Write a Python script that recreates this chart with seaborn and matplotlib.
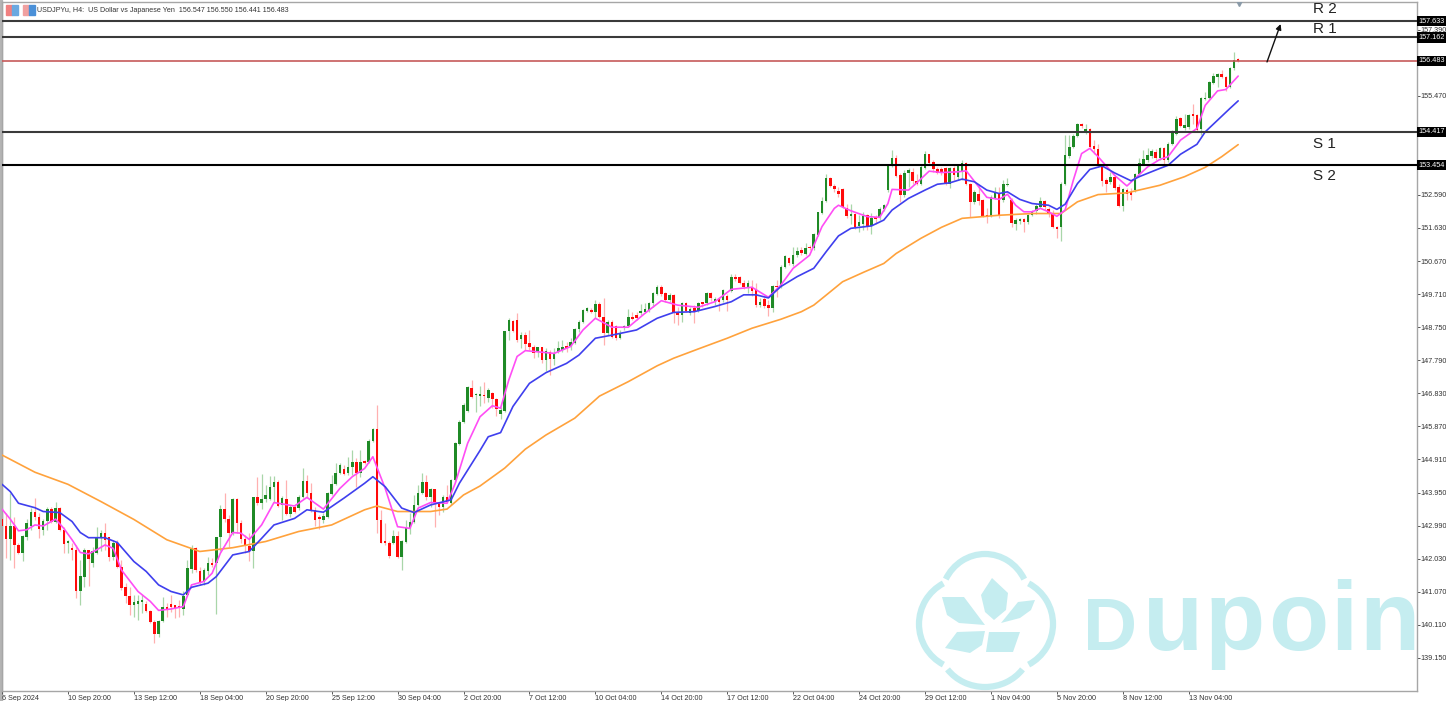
import pandas as pd
import seaborn as sns
from matplotlib import pyplot as plt
from matplotlib.patches import Arc, Polygon, Rectangle

# USDJPYu H4 candles
opens = [
    143.17,142.98,142.59,142.98,142.43,142.21,142.67,142.98,143.38,143.23,
    142.86,143.13,143.46,143.11,143.49,142.86,142.48,142.35,142.29,141.08,
    141.51,142.27,141.92,142.21,142.65,142.79,142.65,142.07,142.50,141.78,
    141.20,140.95,140.69,140.72,140.77,140.72,140.51,140.20,139.84,140.22,
    140.64,140.72,140.68,140.66,140.56,140.98,141.73,142.35,141.66,141.34,
    141.68,141.92,141.90,142.67,143.47,143.17,142.79,143.75,143.06,142.59,
    142.40,142.24,143.81,143.64,143.75,143.75,144.10,144.27,143.59,143.76,
    143.33,143.52,143.50,143.81,144.29,143.93,143.45,143.25,143.16,143.23,
    143.91,144.20,144.53,144.63,144.51,144.68,144.85,144.53,144.87,144.85,
    145.46,145.79,143.14,142.53,142.50,142.50,142.69,142.09,142.51,142.91,
    143.11,143.59,143.93,144.27,143.83,144.05,143.64,143.54,143.81,143.64,
    144.32,145.36,146.01,146.33,146.98,146.78,146.74,146.76,146.69,146.85,
    146.66,146.22,146.33,148.65,148.94,148.96,148.40,148.52,148.30,148.17,
    148.04,148.17,147.80,148.04,147.82,148.04,148.09,148.20,148.20,148.30,
    148.69,148.91,149.23,149.25,149.20,149.41,149.06,148.59,148.91,148.79,
    148.43,148.72,148.79,149.06,149.10,149.15,149.20,149.25,149.44,149.71,
    149.93,149.75,149.54,149.68,149.17,149.10,149.46,149.15,149.30,149.23,
    149.47,149.46,149.75,149.49,149.56,149.54,149.66,149.81,150.22,150.20,
    150.04,149.88,149.92,149.83,149.39,149.56,149.39,149.32,149.95,149.92,
    150.51,150.75,150.58,150.84,150.99,150.87,151.09,151.04,151.43,152.07,
    152.41,153.07,152.86,152.71,152.76,152.20,151.97,152.03,151.69,151.74,
    152.00,151.69,151.96,151.94,152.18,152.73,153.44,153.65,153.16,152.58,
    153.23,153.26,153.00,152.90,153.37,153.77,153.55,153.34,153.34,153.36,
    152.92,153.36,153.10,153.29,153.52,152.92,152.39,152.63,152.44,151.99,
    151.99,152.49,152.63,152.44,152.87,152.44,151.76,151.83,151.89,151.81,
    152.00,152.13,152.25,152.42,152.17,152.07,151.67,151.67,152.90,153.71,
    153.98,154.30,154.64,154.42,154.50,154.00,153.93,153.47,153.02,152.97,
    153.10,152.83,152.27,152.73,152.68,152.73,153.19,153.50,153.60,153.71,
    153.84,153.65,153.96,153.60,154.08,154.37,154.81,154.52,154.57,154.90,
    154.90,154.49,155.36,155.39,155.84,156.00,156.09,156.02,155.73,156.26,
    156.547]
highs = [
    143.35,143.35,143.93,143.25,142.48,142.72,143.17,143.49,143.78,143.35,
    143.17,143.54,143.54,143.69,143.54,142.96,142.57,142.48,142.43,141.99,
    142.33,142.29,142.38,142.96,142.86,143.06,142.67,142.57,142.57,141.99,
    141.32,141.22,140.98,140.98,140.98,140.79,140.54,140.25,140.25,140.91,
    140.74,140.98,140.69,140.83,141.08,141.99,142.43,142.38,141.80,141.75,
    142.07,142.04,142.67,143.59,143.93,143.30,143.78,143.78,143.15,142.72,
    142.77,143.83,144.41,144.49,144.17,144.43,144.43,144.32,143.85,144.32,
    143.59,143.62,143.88,144.67,144.46,144.22,143.54,143.30,143.37,143.98,
    144.46,144.80,144.82,144.75,144.99,145.19,144.94,145.19,144.90,145.50,
    145.82,146.49,143.43,143.06,142.53,142.85,142.82,142.58,143.16,143.35,
    143.88,144.17,144.51,144.46,144.07,144.05,143.69,143.88,144.17,144.34,
    145.43,146.06,146.54,147.03,147.22,146.85,147.03,147.17,146.98,146.88,
    146.69,146.43,148.65,149.01,148.96,149.15,148.62,148.62,148.67,148.23,
    148.18,148.18,148.14,148.09,148.14,148.36,148.38,148.33,148.43,148.72,
    148.96,149.27,149.35,149.30,149.54,149.49,149.59,148.96,148.96,148.81,
    148.67,148.81,149.27,149.20,149.20,149.42,149.44,149.49,149.78,149.97,
    149.97,149.78,149.73,149.71,149.35,149.49,149.49,149.33,149.39,149.49,
    149.49,149.78,149.78,149.62,149.59,149.85,149.71,150.29,150.29,150.24,
    150.12,150.12,150.12,150.02,149.59,149.64,149.54,149.97,150.12,150.55,
    150.84,150.80,151.09,151.09,151.07,151.18,151.14,151.49,152.10,152.52,
    153.19,153.10,152.90,152.83,152.78,152.34,152.34,152.07,152.00,152.10,
    152.03,152.07,152.00,152.25,152.34,153.50,153.89,153.74,153.23,153.31,
    153.36,153.36,153.21,153.48,153.87,153.79,153.60,153.41,153.41,153.41,
    153.41,153.43,153.45,153.60,153.55,152.94,152.73,152.87,152.46,152.20,
    152.58,152.83,152.83,153.02,153.07,152.49,151.91,151.91,151.91,152.05,
    152.15,152.34,152.54,152.44,152.25,152.15,151.68,152.97,154.32,154.32,
    154.37,154.68,154.68,154.66,154.52,154.18,154.08,153.50,153.07,153.26,
    153.16,152.92,152.78,152.78,152.78,153.23,153.65,153.89,153.94,153.91,
    153.91,153.98,153.98,154.13,154.47,154.88,154.86,154.95,154.93,155.24,
    154.93,155.44,155.58,155.90,156.13,156.13,156.21,156.04,156.31,156.74,
    156.55]
lows = [
    142.85,142.04,141.99,141.75,142.17,141.95,142.57,142.86,143.15,142.62,
    142.72,142.86,143.06,143.06,142.82,142.19,142.21,141.99,140.88,140.69,
    141.22,141.24,141.80,142.17,142.24,142.29,141.95,141.99,141.75,141.12,
    140.74,140.40,140.35,140.25,140.45,140.47,140.16,139.58,139.77,140.20,
    140.35,140.49,140.30,140.33,140.40,140.95,141.61,141.63,141.27,141.27,
    141.56,141.80,140.43,142.24,143.11,142.38,142.72,142.77,142.48,142.19,
    141.95,141.75,143.59,143.47,143.69,143.74,143.69,143.52,143.16,143.30,
    143.25,143.35,143.45,143.78,143.78,143.40,142.98,142.89,143.06,143.20,
    143.88,144.17,144.49,144.46,144.46,144.46,144.12,144.41,144.78,144.80,
    145.43,142.77,142.48,142.43,142.04,142.46,142.04,141.70,142.48,142.75,
    143.06,143.56,143.91,143.74,143.54,142.96,143.30,143.40,143.64,143.59,
    144.27,145.33,145.96,146.30,146.69,146.30,146.45,146.54,146.59,146.40,
    146.16,146.08,146.30,148.38,148.62,148.33,148.14,148.09,148.09,147.85,
    147.88,147.70,147.49,147.36,147.65,147.99,148.04,148.04,148.09,148.26,
    148.62,148.86,149.20,149.15,149.01,149.01,148.23,148.52,148.43,148.38,
    148.40,148.67,148.75,148.96,148.96,149.10,149.15,149.20,149.35,149.68,
    149.66,149.49,149.49,148.88,148.81,148.91,149.20,149.10,148.86,149.20,
    149.35,149.39,149.52,149.39,149.23,149.49,149.23,149.78,150.10,150.00,
    149.85,149.73,149.65,149.35,149.35,149.30,149.07,149.20,149.64,149.88,
    150.46,150.55,150.53,150.80,150.84,150.84,150.99,150.99,151.40,152.03,
    152.38,152.81,152.68,152.52,152.20,151.91,151.76,151.59,151.52,151.57,
    151.57,151.45,151.76,151.86,152.13,152.68,153.41,153.12,152.39,152.54,
    152.83,152.92,152.87,152.87,153.33,153.48,153.26,153.21,153.16,152.87,
    152.78,153.02,153.02,153.02,152.87,151.94,152.34,152.29,151.94,151.78,
    151.94,152.46,151.91,152.39,152.85,151.67,151.57,151.76,151.52,151.76,
    151.98,152.05,152.20,152.15,151.95,151.62,151.33,151.26,152.87,153.67,
    153.94,154.28,154.52,154.37,153.94,153.79,153.40,152.85,152.68,152.92,
    152.73,152.25,152.13,152.44,152.44,152.68,153.16,153.45,153.55,153.65,
    153.60,153.60,153.45,153.55,154.03,154.32,154.55,154.47,154.49,154.66,
    154.42,154.32,155.34,155.36,155.82,155.71,155.97,155.61,155.68,156.23,
    156.441]
closes = [
    142.98,142.59,142.98,142.43,142.21,142.69,143.08,143.38,143.23,142.88,
    143.13,143.46,143.11,143.49,142.86,142.46,142.55,142.29,141.08,141.53,
    142.29,142.03,142.24,142.65,142.79,142.57,142.07,142.50,141.78,141.17,
    140.95,140.69,140.76,140.79,140.83,140.51,140.20,139.84,140.22,140.62,
    140.56,140.64,140.60,140.59,140.96,141.75,142.35,141.70,141.34,141.70,
    141.92,141.85,142.67,143.47,143.17,142.79,143.75,143.06,142.59,142.40,
    142.24,143.81,143.66,143.75,143.88,144.10,144.27,143.56,143.78,143.33,
    143.52,143.40,143.81,144.29,143.93,143.45,143.16,143.18,143.27,143.93,
    144.20,144.53,144.75,144.49,144.68,144.85,144.53,144.85,144.82,145.46,
    145.79,143.14,142.50,142.48,142.11,142.69,142.09,142.53,142.91,143.11,
    143.59,143.95,144.27,143.83,144.05,143.64,143.54,143.81,143.69,144.32,
    145.38,146.01,146.49,147.01,146.72,146.81,146.81,146.74,146.93,146.66,
    146.37,146.35,148.65,148.96,148.65,148.38,148.52,148.26,148.17,148.01,
    148.17,147.80,148.07,147.82,147.99,148.14,148.17,148.14,148.33,148.70,
    148.91,149.25,149.30,149.18,149.41,149.06,148.59,148.91,148.48,148.43,
    148.57,148.79,149.06,148.98,149.01,149.23,149.27,149.44,149.75,149.93,
    149.71,149.54,149.68,149.15,149.10,149.44,149.23,149.27,149.20,149.46,
    149.42,149.75,149.59,149.56,149.49,149.83,149.54,150.20,150.14,150.04,
    149.91,150.02,149.81,149.39,149.49,149.36,149.30,149.94,149.92,150.51,
    150.81,150.60,150.86,150.97,150.89,151.04,151.04,151.45,152.08,152.42,
    153.07,152.85,152.75,152.63,152.25,151.97,152.05,151.67,151.81,151.97,
    151.69,151.91,151.90,152.18,152.29,153.45,153.65,153.15,152.58,153.24,
    153.31,153.00,152.90,153.39,153.77,153.52,153.33,153.24,153.24,152.92,
    153.36,153.16,153.43,153.52,152.92,152.39,152.68,152.42,151.97,151.96,
    152.52,152.65,152.00,152.90,152.92,151.78,151.86,151.88,151.81,152.00,
    152.10,152.26,152.42,152.23,152.07,151.67,151.59,152.92,153.74,153.98,
    154.30,154.66,154.60,154.50,153.98,153.91,153.45,152.99,152.90,153.10,
    152.80,152.27,152.75,152.61,152.60,153.19,153.52,153.62,153.74,153.86,
    153.65,153.94,153.60,154.08,154.40,154.78,154.59,154.61,154.90,154.89,
    154.47,155.41,155.41,155.87,156.04,156.09,156.00,155.71,156.26,156.52,
    156.483]

# moving averages, read at the bars listed in the *_bars arrays
orange_bars = [0,8,16,24,32,40,48,56,64,72,80,88,91,96,104,108,112,116,122,127,132,139,145,152,159,163,
               169,176,182,189,194,197,200,204,209,214,217,223,228,233,238,242,250,257,261,266,273,281,287,292,296,300]
orange_vals = [145.04,144.54,144.19,143.69,143.17,142.58,142.24,142.35,142.53,142.82,143.01,143.45,143.56,143.40,
               143.40,143.47,143.88,144.14,144.66,145.21,145.62,146.11,146.75,147.17,147.63,147.85,
               148.12,148.43,148.72,148.98,149.20,149.39,149.68,150.07,150.34,150.60,150.89,151.33,151.65,151.91,
               151.96,152.00,152.05,152.05,152.39,152.60,152.65,152.87,153.12,153.39,153.70,154.05]
blue_bars = [0,2,4,8,10,14,17,19,21,25,28,32,35,38,41,44,46,50,52,56,60,63,66,71,74,78,83,88,90,93,97,100,104,109,111,
             116,118,121,124,128,132,137,140,144,148,154,159,163,168,173,177,180,183,186,189,193,197,200,203,206,
             211,214,216,220,224,227,230,233,236,239,242,244,247,250,254,256,258,261,264,267,270,274,276,281,283,
             286,290,292,295,298,300]
blue_vals = [144.19,143.98,143.64,143.51,143.40,143.37,143.11,142.79,142.64,142.64,142.50,141.95,141.66,141.27,141.08,
             140.98,141.20,141.32,141.51,142.14,142.24,142.62,143.01,143.20,143.45,143.38,143.79,144.22,144.41,144.12,
             143.50,143.37,143.59,143.74,144.22,145.17,145.57,145.69,146.45,147.12,147.43,147.70,147.94,148.43,148.52,
             148.67,149.01,149.18,149.20,149.35,149.49,149.69,149.69,149.60,149.93,150.22,150.46,150.94,151.40,151.62,
             151.69,151.86,152.15,152.49,152.73,152.90,152.94,153.05,152.97,152.73,152.63,152.68,152.46,152.34,152.29,
             152.17,152.32,152.92,153.33,153.43,153.23,153.00,153.12,153.36,153.45,153.77,154.06,154.42,154.76,155.10,
             155.32]
pink_bars = [0,2,4,6,8,10,13,15,17,19,21,23,25,27,29,33,36,38,41,44,46,49,51,53,56,58,60,63,66,71,74,78,82,85,88,90,93,
             96,99,101,104,108,110,113,116,119,121,123,125,127,134,138,141,144,148,152,156,160,164,169,173,177,182,186,
             189,192,196,199,202,203,206,210,213,215,216,220,222,225,228,232,234,237,239,242,244,246,248,250,252,254,
             256,258,260,262,264,266,270,273,275,278,281,283,286,290,292,295,297,300]
pink_vals = [143.47,143.18,142.84,142.87,143.01,142.98,143.18,142.91,142.58,142.21,142.17,142.29,142.43,142.33,141.70,
             141.08,140.79,140.53,140.57,140.64,141.27,141.37,141.61,142.19,142.79,142.77,142.59,143.01,143.66,143.56,
             143.81,143.47,144.07,144.41,144.65,144.99,144.07,142.96,142.91,143.50,143.66,143.64,144.22,145.38,146.15,
             146.47,146.40,147.22,147.90,148.07,147.99,148.19,148.67,149.01,148.75,148.75,149.15,149.52,149.39,149.33,
             149.49,149.85,149.91,149.62,149.97,150.46,150.84,151.67,152.20,152.29,152.13,151.96,151.94,152.34,152.75,
             152.73,152.94,153.28,153.24,153.26,153.29,152.83,152.52,152.46,152.61,152.29,152.10,152.10,152.20,152.10,
             151.97,152.15,153.02,153.79,153.94,153.70,153.16,152.85,153.07,153.40,153.62,153.70,154.18,154.52,155.19,
             155.61,155.65,156.04]

support_resistance = [157.633, 157.162, 154.417, 153.454]
level_colors = ["#3a3a3a", "#3a3a3a", "#3a3a3a", "#000000"]
last_price = 156.483
axis_prices = [139.15, 140.11, 141.07, 142.03, 142.99, 143.95, 144.91, 145.87, 146.83, 147.79, 148.75,
               149.71, 150.67, 151.63, 152.59, 155.47, 157.39]
date_labels = ["6 Sep 2024", "10 Sep 20:00", "13 Sep 12:00", "18 Sep 04:00", "20 Sep 20:00", "25 Sep 12:00",
               "30 Sep 04:00", "2 Oct 20:00", "7 Oct 12:00", "10 Oct 04:00", "14 Oct 20:00", "17 Oct 12:00",
               "22 Oct 04:00", "24 Oct 20:00", "29 Oct 12:00", "1 Nov 04:00", "5 Nov 20:00", "8 Nov 12:00",
               "13 Nov 04:00"]

sns.set_theme(style="white")
plt.rcParams["font.family"] = ["Liberation Sans", "DejaVu Sans"]

W, H = 1446, 701
fig = plt.figure(figsize=(W / 100, H / 100), dpi=100, facecolor="white")
ax = fig.add_axes([2 / W, (H - 691) / H, 1415 / W, 689 / H])

# pixel overlay underneath the chart, for the watermark logo
bg = fig.add_axes([0, 0, 1, 1], zorder=-1)
bg.set_xlim(0, W)
bg.set_ylim(H, 0)
bg.axis("off")
bg.add_patch(Rectangle((0, 0), 2, H, color="#b4b4b4"))
logo = "#c5edf0"
for cx, cy, w, h, a1, a2 in [(985, 600, 88, 92, 208, 332), (985, 645, 92, 84, 33, 147),
                             (965, 624, 92, 92, 118, 242), (1007, 624, 92, 92, -62, 62)]:
    bg.add_patch(Arc((cx, cy), w, h, theta1=a1, theta2=a2, color=logo, lw=4.5))
for pts in [[(992, 578), (1008, 593), (1006, 610), (994, 620), (985, 612), (981, 595)],
            [(942, 597), (964, 597), (985, 625), (959, 623), (947, 615)],
            [(1035, 600), (1018, 602), (1001, 623), (1020, 618), (1031, 610)],
            [(985, 631), (957, 632), (945, 648), (970, 653), (982, 645)],
            [(1020, 632), (989, 632), (986, 652), (1013, 652)]]:
    bg.add_patch(Polygon(pts, closed=True, color=logo, lw=0))
for letter, px, size in [("D", 1083, 54), ("u", 1143, 71), ("p", 1205, 71), ("o", 1268, 71), ("i", 1330, 71), ("n", 1359, 71)]:
    bg.text(px, 650, letter, color=logo, fontsize=size, fontweight="bold", va="baseline", ha="left")

ax.patch.set_alpha(0)

df = pd.DataFrame({"bar": range(len(opens)), "open": opens, "high": highs, "low": lows, "close": closes})
df["up"] = df["close"] >= df["open"]
up = df[df["up"]]
down = df[~df["up"]]

ax.vlines(up["bar"], up["low"], up["high"], color="#a9d6a9", lw=0.9, zorder=2)
ax.vlines(down["bar"], down["low"], down["high"], color="#ffb0b0", lw=0.9, zorder=2)
ax.bar(up["bar"], (up["close"] - up["open"]).clip(lower=0.04), bottom=up["open"], width=0.62, color="#1f8a26", lw=0, zorder=3)
ax.bar(down["bar"], (down["open"] - down["close"]).clip(lower=0.04), bottom=down["close"], width=0.62, color="#ff0a0a", lw=0, zorder=3)

sns.lineplot(x=orange_bars, y=orange_vals, color="#ffa23c", lw=1.2, ax=ax, zorder=4)
sns.lineplot(x=pink_bars, y=pink_vals, color="#ff4df5", lw=1.2, ax=ax, zorder=5)
sns.lineplot(x=blue_bars, y=blue_vals, color="#3f3fee", lw=1.2, ax=ax, zorder=5)

for level, col in zip(support_resistance, level_colors):
    ax.axhline(level, color=col, lw=1.5, zorder=6)
ax.axhline(last_price, color="#c65a5a", lw=1.2, zorder=6)

# price axis on the right
ax.set_xlim(0, 343.4)
ax.set_ylim(138.19, 158.19)
ax.yaxis.tick_right()
ax.set_yticks(axis_prices)
ax.set_yticklabels([f"{p:.3f}" for p in axis_prices])
ax.tick_params(axis="y", length=2, width=0.7, color="#555555", labelsize=5.2, labelcolor="#333333", pad=0.5, right=True)
ax.set_xticks(range(0, 16 * len(date_labels), 16))
ax.set_xticklabels(date_labels, ha="left")
ax.tick_params(axis="x", length=2, width=0.7, color="#555555", labelsize=5.2, labelcolor="#333333", pad=1, bottom=True)
for s in ax.spines.values():
    s.set_color("#a6a6a6")
    s.set_linewidth(1)

for level in support_resistance + [last_price]:
    ax.text(1.0012, level, f"{level:.3f}", transform=ax.get_yaxis_transform(), color="white", fontsize=5.2,
            va="center", ha="left", zorder=8, clip_on=False,
            bbox=dict(facecolor="black", edgecolor="none", pad=1.2))

for label, price, bar in [("R 2", 157.98, 318.2), ("R 1", 157.40, 318.2), ("S 1", 154.07, 318.2), ("S 2", 153.14, 318.2)]:
    ax.text(bar, price, label, fontsize=11, color="#222222", va="center", ha="left", zorder=7)

ax.annotate("", xy=(310.3, 157.55), xytext=(307, 156.45), zorder=7,
            arrowprops=dict(arrowstyle="-|>", color="#111111", lw=1, shrinkA=0, shrinkB=0, mutation_scale=8))
ax.plot([300.2], [158.18], marker="v", ms=6, color="#8a9aa8", clip_on=True, zorder=7)

# header: symbol icons and the OHLC line
fig.patches.extend([
    Rectangle((6 / W, (H - 15) / H), 6 / W, 10 / H, transform=fig.transFigure, color="#f08080", zorder=9),
    Rectangle((12 / W, (H - 15) / H), 6 / W, 10 / H, transform=fig.transFigure, color="#6aa8e0", zorder=9),
    Rectangle((23 / W, (H - 15) / H), 6 / W, 10 / H, transform=fig.transFigure, color="#f0a0a0", zorder=9),
    Rectangle((29 / W, (H - 15) / H), 6 / W, 10 / H, transform=fig.transFigure, color="#4a90d8", zorder=9),
])
fig.text(37 / W, (H - 10) / H, "USDJPYu, H4:  US Dollar vs Japanese Yen  156.547 156.550 156.441 156.483",
         fontsize=5.1, color="#333333", va="center", ha="left", zorder=9)

plt.savefig("out.png", dpi=100, facecolor="white")
plt.close()
